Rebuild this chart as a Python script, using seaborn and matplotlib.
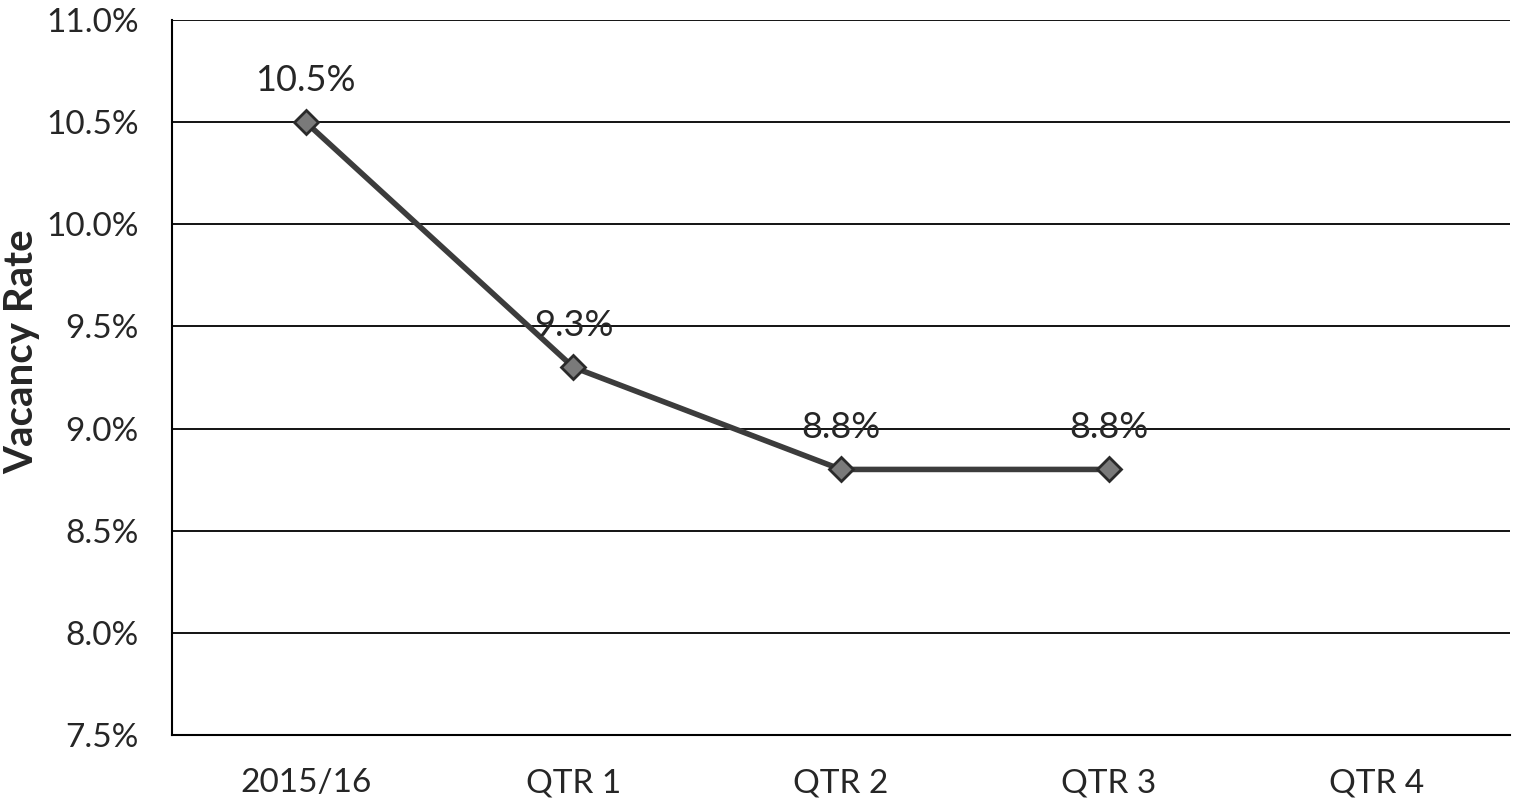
import pandas as pd
import matplotlib.pyplot as plt
import seaborn as sns
from matplotlib.ticker import FuncFormatter

periods = ["2015/16", "QTR 1", "QTR 2", "QTR 3", "QTR 4"]
rates = [10.5, 9.3, 8.8, 8.8, None]
labels = ["10.5%", "9.3%", "8.8%", "8.8%", ""]

df = pd.DataFrame({"period": periods, "rate": rates, "pos": range(len(periods))})

sns.set_style("white")
plt.rcParams['font.family'] = ['Lato', 'DejaVu Sans']

fig = plt.figure(figsize=(15.19, 8), dpi=100)
ax = fig.add_axes([0.1132, 0.08125, 0.8809, 0.89375])

sns.lineplot(data=df.dropna(), x="pos", y="rate", ax=ax, color="#3c3c3c",
             linewidth=4, marker="D", markersize=12,
             markerfacecolor="#7a7a7a", markeredgecolor="#2a2a2a", markeredgewidth=2)

# value labels above points
for i, row in df.dropna().iterrows():
    ax.annotate(labels[i], (row["pos"], row["rate"]), xytext=(0, 18),
                textcoords="offset points", ha="center", va="bottom", fontsize=26)

ax.set_ylim(7.5, 11.0)
ax.set_yticks([7.5 + 0.5 * k for k in range(8)])
ax.yaxis.set_major_formatter(FuncFormatter(lambda v, _: f"{v:.1f}%"))
ax.grid(axis="y", color="black", linewidth=1.3)
ax.set_axisbelow(True)

ax.set_xlim(-0.5, len(periods) - 0.5)
ax.set_xticks(range(len(periods)))
ax.set_xticklabels(periods)
ax.set_xticks([k - 0.5 for k in range(len(periods) + 1)], minor=True)
ax.tick_params(axis="x", which="major", length=0, pad=24, labelsize=24)
ax.tick_params(axis="x", which="minor", length=10, width=1.3, color="black", direction="out")
ax.tick_params(axis="y", length=10, width=1.3, color="black", direction="out", labelsize=24, pad=14)

for s in ["top", "right"]:
    ax.spines[s].set_visible(False)
for s in ["left", "bottom"]:
    ax.spines[s].set_color("black")
    ax.spines[s].set_linewidth(1.5)

ax.set_xlabel("")
ax.set_ylabel("Vacancy Rate", fontsize=29, fontweight="bold", va="center")
ax.yaxis.set_label_coords(-0.112, 0.536)

fig.savefig("out.png", dpi=100)
